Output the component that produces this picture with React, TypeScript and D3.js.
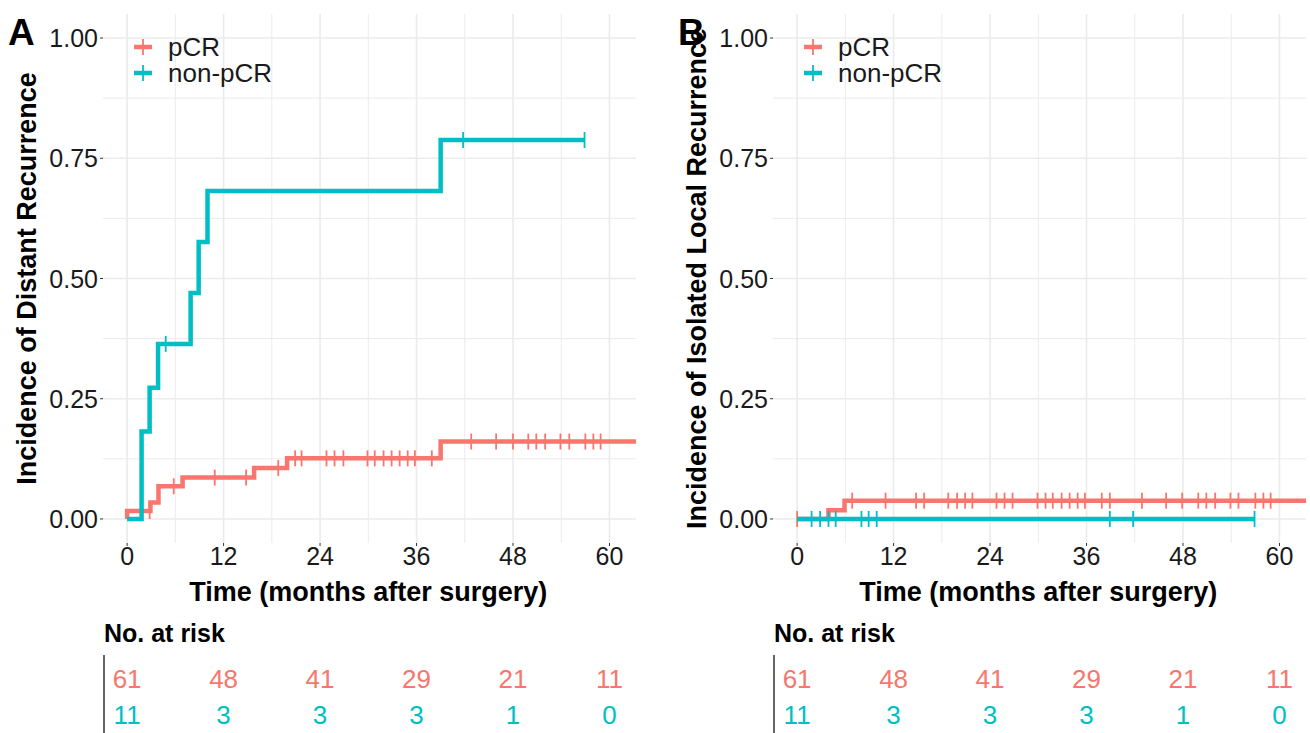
import React from 'react';
import * as d3 from 'd3';

const RED = '#F8766D';
const TEAL = '#00BFC4';

const xTicks = [0, 12, 24, 36, 48, 60];
const xMinor = [6, 18, 30, 42, 54];
const yTicks = [0, 0.25, 0.5, 0.75, 1];
const yMinor = [0.125, 0.375, 0.625, 0.875];
const yTickLabels = ['0.00', '0.25', '0.50', '0.75', '1.00'];
const groups = ['pCR', 'non-pCR'];

// Panel A – distant recurrence
const aPcrTimes = [0, 0, 2.9, 3.9, 6.9, 15.8, 19.9, 39.0, 63.5];
const aPcrValues = [0, 0.0164, 0.034, 0.068, 0.086, 0.106, 0.126, 0.161, 0.161];
const aPcrCensor = [1.8, 2.8, 5.8, 10.9, 14.8, 18.8, 20.9, 21.7, 24.8, 25.8, 26.9, 29.9, 30.8, 31.9, 32.9, 33.9, 34.9, 35.8, 37.9, 42.8, 45.9, 48.0, 49.9, 50.9, 52.0, 53.9, 55.0, 57.0, 58.0, 58.9];
const aNonTimes = [0, 1.8, 2.8, 3.85, 7.9, 8.9, 10.0, 39.0, 56.9];
const aNonValues = [0, 0.182, 0.273, 0.364, 0.470, 0.576, 0.682, 0.788, 0.788];
const aNonCensor = [4.8, 41.8, 56.9];

// Panel B – isolated local recurrence
const bPcrTimes = [0, 3.9, 5.9, 63.5];
const bPcrValues = [0, 0.018, 0.038, 0.038];
const bPcrCensor = [0, 6.85, 11.0, 14.8, 15.8, 18.8, 19.9, 20.9, 21.8, 24.8, 25.8, 26.8, 29.9, 30.9, 31.8, 32.9, 33.9, 34.9, 35.8, 37.9, 38.9, 42.9, 45.9, 47.9, 49.9, 50.9, 52.0, 53.9, 54.9, 57.0, 58.0, 58.9];
const bNonTimes = [0, 56.9];
const bNonValues = [0, 0];
const bNonCensor = [1.8, 2.86, 3.9, 4.8, 8.0, 8.9, 9.9, 38.9, 41.8, 56.9];

const riskPcr = [61, 48, 41, 29, 21, 11];
const riskNon = [11, 3, 3, 3, 1, 0];

const FONT = '"Liberation Sans", Arial, Helvetica, sans-serif';

type Series = { times: number[]; values: number[]; censor: number[]; color: string };

function valueAt(times: number[], values: number[], t: number) {
  let v = values[0];
  for (let i = 0; i < times.length; i++) {
    if (times[i] <= t) v = values[i];
  }
  return v;
}

function Panel(props: { ox: number; letter: string; yTitle: string; series: Series[]; id: string }) {
  const { ox, letter, yTitle, series, id } = props;
  const left = ox + 103;
  const right = ox + 636;
  const top = 14;
  const bottom = 543;
  const x = d3.scaleLinear().domain([-3, 63.3]).range([left, right]);
  const y = d3.scaleLinear().domain([-0.05, 1.05]).range([bottom, top]);
  const line = d3
    .line<[number, number]>()
    .x((d) => x(d[0]))
    .y((d) => y(d[1]))
    .curve(d3.curveStepAfter);
  const grid = '#EBEBEB';
  return (
    <g>
      <defs>
        <clipPath id={id}>
          <rect x={left} y={top} width={right - left} height={bottom - top} />
        </clipPath>
      </defs>
      {xMinor.map((t) => (
        <line key={'xm' + t} x1={x(t)} x2={x(t)} y1={top} y2={bottom} stroke={grid} strokeWidth={1} />
      ))}
      {yMinor.map((t) => (
        <line key={'ym' + t} x1={left} x2={right} y1={y(t)} y2={y(t)} stroke={grid} strokeWidth={1} />
      ))}
      {xTicks.map((t) => (
        <line key={'xg' + t} x1={x(t)} x2={x(t)} y1={top} y2={bottom} stroke={grid} strokeWidth={1.6} />
      ))}
      {yTicks.map((t) => (
        <line key={'yg' + t} x1={left} x2={right} y1={y(t)} y2={y(t)} stroke={grid} strokeWidth={1.6} />
      ))}
      <g clipPath={`url(#${id})`}>
        {series.map((s, i) => {
          const pts = s.times.map((t, j) => [t, s.values[j]] as [number, number]);
          return (
            <g key={i}>
              <path d={line(pts) || ''} fill="none" stroke={s.color} strokeWidth={4.5} strokeLinejoin="miter" />
              {s.censor.map((c, k) => {
                const v = valueAt(s.times, s.values, c);
                return (
                  <line key={k} x1={x(c)} x2={x(c)} y1={y(v) - 8} y2={y(v) + 8} stroke={s.color} strokeWidth={1.8} />
                );
              })}
            </g>
          );
        })}
      </g>
      {/* y axis */}
      {yTicks.map((t, i) => (
        <g key={'yt' + t}>
          <line x1={left - 3} x2={left} y1={y(t)} y2={y(t)} stroke="#333" strokeWidth={1} />
          <text x={left - 5} y={y(t)} dy="0.36em" textAnchor="end" fontSize={25} fill="#1a1a1a" fontFamily={FONT}>
            {yTickLabels[i]}
          </text>
        </g>
      ))}
      {/* x axis */}
      {xTicks.map((t) => (
        <g key={'xt' + t}>
          <line x1={x(t)} x2={x(t)} y1={bottom} y2={bottom + 3} stroke="#333" strokeWidth={1} />
          <text x={x(t)} y={565} textAnchor="middle" fontSize={25} fill="#1a1a1a" fontFamily={FONT}>
            {t}
          </text>
        </g>
      ))}
      <text x={x(30)} y={601} textAnchor="middle" fontSize={27} fontWeight="bold" fill="#000" fontFamily={FONT}>
        Time (months after surgery)
      </text>
      <text
        transform={`translate(${ox + 36},${(top + bottom) / 2}) rotate(-90)`}
        textAnchor="middle"
        fontSize={27}
        fontWeight="bold"
        fill="#000"
        fontFamily={FONT}
      >
        {yTitle}
      </text>
      <text x={ox + 8} y={45} fontSize={37} fontWeight="bold" fill="#000" fontFamily={FONT}>
        {letter}
      </text>
      {/* legend */}
      {groups.map((g, i) => {
        const cy = 47 + i * 26;
        const col = i === 0 ? RED : TEAL;
        const kx = left + 40;
        return (
          <g key={g}>
            <line x1={kx - 9} x2={kx + 9} y1={cy} y2={cy} stroke={col} strokeWidth={4.5} />
            <line x1={kx} x2={kx} y1={cy - 8} y2={cy + 8} stroke={col} strokeWidth={1.8} />
            <text x={left + 65} y={cy} dy="0.36em" fontSize={26} fill="#1a1a1a" fontFamily={FONT}>
              {g}
            </text>
          </g>
        );
      })}
      {/* risk table */}
      <text x={ox + 104} y={642} fontSize={25} fontWeight="bold" fill="#000" fontFamily={FONT}>
        No. at risk
      </text>
      <line x1={ox + 104} x2={ox + 104} y1={655} y2={733} stroke="#333" strokeWidth={1.5} />
      {xTicks.map((t, i) => (
        <g key={'rk' + t}>
          <text x={x(t)} y={688} textAnchor="middle" fontSize={26} fill={RED} fontFamily={FONT}>
            {riskPcr[i]}
          </text>
          <text x={x(t)} y={724} textAnchor="middle" fontSize={26} fill={TEAL} fontFamily={FONT}>
            {riskNon[i]}
          </text>
        </g>
      ))}
    </g>
  );
}

export default function App() {
  const seriesA: Series[] = [
    { times: aPcrTimes, values: aPcrValues, censor: aPcrCensor, color: RED },
    { times: aNonTimes, values: aNonValues, censor: aNonCensor, color: TEAL },
  ];
  const seriesB: Series[] = [
    { times: bPcrTimes, values: bPcrValues, censor: bPcrCensor, color: RED },
    { times: bNonTimes, values: bNonValues, censor: bNonCensor, color: TEAL },
  ];
  return (
    <div style={{ position: 'fixed', left: 0, top: 0 }}>
      <svg width={1310} height={733} style={{ display: 'block', background: '#fff' }}>
        <rect width={1310} height={733} fill="#fff" />
        <Panel ox={0} letter="A" yTitle="Incidence of Distant Recurrence" series={seriesA} id="clipA" />
        <Panel ox={670} letter="B" yTitle="Incidence of Isolated Local Recurrence" series={seriesB} id="clipB" />
      </svg>
    </div>
  );
}
